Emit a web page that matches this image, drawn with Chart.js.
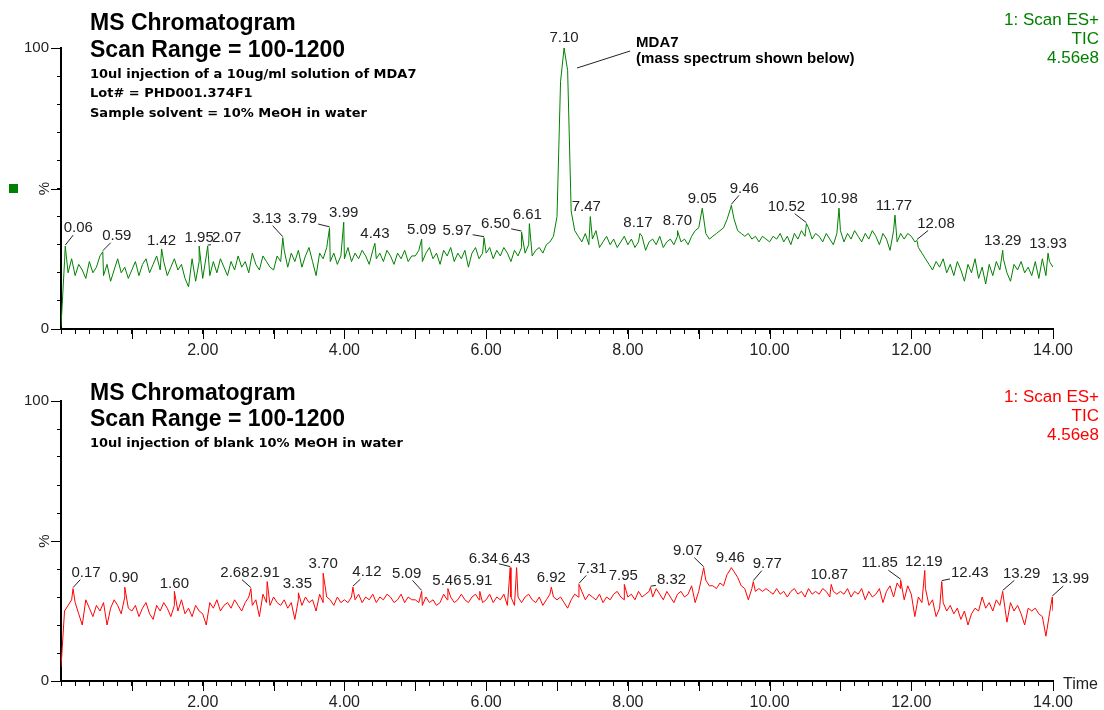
<!DOCTYPE html>
<html>
<head>
<meta charset="utf-8">
<script src="https://cdn.jsdelivr.net/npm/chart.js@4.4.0/dist/chart.umd.min.js"></script>
<style>
  html, body { margin: 0; padding: 0; background: #fff; }
  #wrap { position: relative; width: 1104px; height: 710px; }
  canvas { position: absolute; left: 0; }
  #topChart { top: 0; }
  #bottomChart { top: 360px; }
</style>
</head>
<body>
<div id="wrap">
  <canvas id="topChart" width="1104" height="360"></canvas>
  <canvas id="bottomChart" width="1104" height="350"></canvas>
</div>
<script>
// one reading every 0.05 min from 0.00 to 14.00
const STEP = 0.05;

// MDA7 injection, relative intensity (%), one row per minute
const mdaTrace = [
  1, 24, 20, 25, 19, 23, 21, 18, 24, 20, 22, 26, 19, 23, 17, 21, 25, 20, 22, 18,
  21, 24, 19, 23, 25, 20, 23, 26, 21, 24, 19, 22, 25, 21, 23, 18, 15, 25, 17, 24,
  18, 26, 19, 24, 20, 25, 22, 19, 24, 21, 26, 22, 24, 20, 27, 23, 21, 26, 24, 22,
  21, 26, 24, 28, 22, 27, 24, 28, 22, 26, 29, 24, 19, 27, 25, 29, 24, 27, 23, 26,
  25, 29, 24, 27, 25, 28, 26, 23, 28, 25, 27, 24, 28, 26, 23, 27, 25, 28, 24, 26,
  26, 28, 24, 27, 29, 25, 27, 23, 28, 26, 29, 24, 27, 25, 28, 22, 27, 29, 25, 27,
  27, 29, 25, 28, 26, 29, 27, 24, 28, 26, 29, 27, 30, 26, 28, 29, 27, 30, 31, 33,
  40, 88, 100, 92, 42, 35, 33, 31, 34, 30, 32, 35, 29, 31, 33, 30, 32, 29, 31, 33,
  30, 32, 29, 31, 33, 28, 31, 32, 30, 33, 29, 31, 32, 30, 33, 31, 32, 30, 33, 35,
  36, 43, 34, 32, 33, 34, 35, 36, 39, 43, 39, 35, 34, 33, 34, 32, 33, 31, 33, 32,
  31, 33, 32, 34, 31, 33, 30, 34, 32, 35, 33, 36, 32, 34, 33, 31, 34, 32, 30, 34,
  35, 31, 34, 32, 35, 33, 31, 34, 32, 35, 33, 30, 34, 32, 28, 35, 31, 34, 32, 34,
  33, 31, 29, 27, 25, 23, 21, 24, 22, 25, 20, 23, 19, 24, 21, 17, 23, 20, 25, 18,
  22, 16, 23, 19, 24, 21, 25, 20, 17, 23, 21, 24, 20, 22, 19, 24, 18, 25, 19, 24,
  22
];
const mdaPeakTimes = [0.06, 0.59, 1.42, 1.95, 2.07, 3.13, 3.79, 3.99, 4.43, 5.09, 5.97, 6.50, 6.61,
  7.10, 7.47, 8.17, 8.70, 9.05, 9.46, 10.52, 10.98, 11.77, 12.08, 13.29, 13.93];
const mdaPeakHeights = [29.5, 27.5, 28.5, 29.5, 29.5, 32.5, 36, 38, 30.5, 32, 32.5, 34.5, 37.5,
  100, 40, 34, 35, 43, 44, 37.5, 43, 40.5, 31.5, 28, 27];

// blank injection, relative intensity (%), one row per minute
const blankTrace = [
  5, 25, 27, 29, 28, 24, 20, 29, 26, 23, 27, 25, 28, 20, 26, 29, 27, 24, 30, 26,
  25, 27, 23, 26, 28, 24, 22, 27, 25, 28, 26, 23, 27, 25, 29, 24, 26, 23, 27, 25,
  24, 20, 28, 26, 29, 25, 27, 28, 26, 29, 27, 25, 28, 30, 27, 29, 23, 31, 28, 27,
  30, 28, 27, 29, 26, 28, 22, 29, 27, 30, 28, 29, 25, 31, 28, 30, 29, 27, 30, 28,
  29, 28, 30, 29, 31, 28, 30, 29, 31, 28, 30, 29, 31, 30, 28, 29, 31, 28, 30, 29,
  29, 28, 27, 30, 28, 29, 27, 28, 31, 29, 30, 28, 29, 31, 29, 28, 30, 31, 29, 28,
  29, 31, 28, 30, 29, 31, 27, 30, 27, 30, 28, 30, 31, 29, 28, 30, 27, 29, 31, 30,
  29, 30, 28, 26, 29, 31, 30, 32, 29, 31, 30, 29, 31, 28, 30, 29, 31, 32, 30, 29,
  30, 31, 29, 32, 30, 31, 32, 30, 33, 31, 29, 32, 30, 28, 31, 32, 30, 31, 34, 28,
  32, 38, 36, 34, 34, 33, 35, 34, 38, 40, 39, 37, 34, 33, 29, 33, 32, 33, 32, 33,
  32, 31, 33, 31, 32, 30, 32, 33, 31, 32, 30, 33, 31, 32, 31, 33, 32, 30, 32, 31,
  32, 31, 33, 30, 32, 31, 33, 29, 32, 30, 31, 33, 28, 32, 34, 30, 35, 33, 29, 34,
  31, 23, 30, 28, 33, 27, 29, 23, 26, 28, 25, 27, 24, 26, 22, 25, 20, 24, 26, 25,
  30, 26, 28, 25, 29, 27, 30, 21, 28, 25, 27, 24, 20, 26, 25, 26, 24, 23, 16, 24,
  25
];
const blankPeakTimes = [0.17, 0.90, 1.60, 2.68, 2.91, 3.35, 3.70, 4.12, 5.09, 5.46, 5.91, 6.34, 6.43,
  6.92, 7.31, 7.95, 8.32, 9.07, 9.46, 9.77, 10.87, 11.85, 12.19, 12.43, 13.29, 13.99];
const blankPeakHeights = [33, 33.5, 32, 33, 35.5, 31.5, 38.5, 33.5, 32, 33, 32, 40.5, 40.5,
  33.5, 34.5, 34.5, 33.5, 40.5, 40.5, 35.5, 34.5, 36, 39.5, 35.5, 32, 30];

// where each peak label sits relative to its peak (px), leader drawn when pushed sideways
const mdaLabelShift = [[13, -18], [14, -16], [0, -8], [0, -8], [19, -8], [-16, -19], [-27, -9], [0, -9],
  [0, -9], [0, -9], [-27, -7], [-26, -8], [-2, -9], [0, -10], [-4, -10], [-2, -11], [0, -10], [0, -9],
  [13, -17], [-20, -17], [0, -9], [-1, -9], [19, -17], [0, -9], [0, -9]];
const blankLabelShift = [[13, -16], [-1, -9], [0, -8], [-16, -16], [-2, -9], [-1, -9], [0, -9], [14, -15],
  [-15, -18], [-1, -8], [-2, -11], [-27, -9], [-1, -9], [0, -9], [13, -16], [-1, -9], [21, -7], [-16, -17],
  [-1, -10], [14, -18], [-2, -10], [-21, -17], [-1, -9], [28, -9], [19, -18], [18, -18]];

const FONT = '"Liberation Sans", Arial, sans-serif';
const NOTE_FONT = 'bold 13px "DejaVu Sans", sans-serif';
const GREEN = '#008000';
const RED = '#ff0000';

function toPoints(trace, peakTimes, peakHeights) {
  const pts = trace.map((v, i) => ({ x: +(i * STEP).toFixed(2), y: v }));
  peakTimes.forEach((t, i) => pts.push({ x: t, y: peakHeights[i] }));
  return pts.sort((a, b) => a.x - b.x);
}

function text(ctx, str, x, y, font, color, align) {
  ctx.font = font;
  ctx.fillStyle = color;
  ctx.textAlign = align || 'left';
  ctx.textBaseline = 'alphabetic';
  ctx.fillText(str, x, y);
}

function drawPeakLabels(chart, times, heights, shifts) {
  const ctx = chart.ctx, xs = chart.scales.x, ys = chart.scales.y;
  ctx.font = '15px ' + FONT;
  ctx.fillStyle = '#222';
  ctx.strokeStyle = '#222';
  ctx.lineWidth = 1;
  ctx.textAlign = 'center';
  ctx.textBaseline = 'middle';
  times.forEach((t, i) => {
    const px = xs.getPixelForValue(t), py = ys.getPixelForValue(heights[i]);
    const [dx, dy] = shifts[i];
    const label = t.toFixed(2);
    ctx.fillText(label, px + dx, py + dy);
    if (Math.abs(dx) > 5) {
      const hw = ctx.measureText(label).width / 2 + 1, hh = 7;
      const k = 1 - Math.min(hw / Math.abs(dx), hh / Math.abs(dy));
      if (k > 0) {
        ctx.beginPath();
        ctx.moveTo(px, py - 1);
        ctx.lineTo(px + dx * k, py + dy * k);
        ctx.stroke();
      }
    }
  });
}

function drawAxisExtras(chart) {
  const ctx = chart.ctx, xs = chart.scales.x, ys = chart.scales.y, a = chart.chartArea;
  ctx.strokeStyle = '#000';
  ctx.lineWidth = 1;
  ctx.beginPath();
  for (let m = 1; m <= 14; m++) {
    const px = Math.round(xs.getPixelForValue(m)) + 0.5;
    ctx.moveTo(px, a.bottom);
    ctx.lineTo(px, a.bottom + 10);
  }
  [0, 50, 100].forEach(v => {
    const py = Math.round(ys.getPixelForValue(v)) + 0.5;
    ctx.moveTo(a.left - 10, py);
    ctx.lineTo(a.left, py);
  });
  ctx.stroke();
  // rotated % label at the 50 tick
  ctx.save();
  ctx.translate(a.left - 16, ys.getPixelForValue(50));
  ctx.rotate(-Math.PI / 2);
  ctx.font = '15px ' + FONT;
  ctx.fillStyle = '#222';
  ctx.textAlign = 'center';
  ctx.textBaseline = 'middle';
  ctx.fillText('%', 0, 0);
  ctx.restore();
}

function drawScanInfo(ctx, color, y0) {
  const f = '17px ' + FONT;
  text(ctx, '1: Scan ES+', 1099, y0, f, color, 'right');
  text(ctx, 'TIC', 1099, y0 + 19, f, color, 'right');
  text(ctx, '4.56e8', 1099, y0 + 38, f, color, 'right');
}

const topDecor = {
  id: 'topDecor',
  afterDraw(chart) {
    const ctx = chart.ctx;
    ctx.save();
    drawAxisExtras(chart);
    const big = 'bold 23px ' + FONT;
    text(ctx, 'MS Chromatogram', 90, 30, big, '#000');
    text(ctx, 'Scan Range = 100-1200', 90, 57, big, '#000');
    text(ctx, '10ul injection of a 10ug/ml solution of MDA7', 90, 78, NOTE_FONT, '#000');
    text(ctx, 'Lot# = PHD001.374F1', 90, 97, NOTE_FONT, '#000');
    text(ctx, 'Sample solvent = 10% MeOH in water', 90, 117, NOTE_FONT, '#000');
    drawScanInfo(ctx, GREEN, 25);
    // green marker beside the % label
    ctx.fillStyle = GREEN;
    ctx.fillRect(9, Math.round(chart.scales.y.getPixelForValue(50)) - 5, 9, 9);
    drawPeakLabels(chart, mdaPeakTimes, mdaPeakHeights, mdaLabelShift);
    // MDA7 call-out next to the main peak
    const px = chart.scales.x.getPixelForValue(7.10), py = chart.scales.y.getPixelForValue(100);
    ctx.strokeStyle = '#222';
    ctx.beginPath();
    ctx.moveTo(px + 13, py + 20);
    ctx.lineTo(px + 66, py + 3);
    ctx.stroke();
    text(ctx, 'MDA7', px + 72, py - 1, 'bold 15px ' + FONT, '#000');
    text(ctx, '(mass spectrum shown below)', px + 72, py + 15, 'bold 15px ' + FONT, '#000');
    ctx.restore();
  }
};

const bottomDecor = {
  id: 'bottomDecor',
  afterDraw(chart) {
    const ctx = chart.ctx;
    ctx.save();
    drawAxisExtras(chart);
    const big = 'bold 23px ' + FONT;
    text(ctx, 'MS Chromatogram', 90, 40, big, '#000');
    text(ctx, 'Scan Range = 100-1200', 90, 66, big, '#000');
    text(ctx, '10ul injection of blank 10% MeOH in water', 90, 87, NOTE_FONT, '#000');
    drawScanInfo(ctx, RED, 42);
    const a = chart.chartArea;
    text(ctx, 'Time', a.right + 10, a.bottom + 8, '16px ' + FONT, '#222');
    drawPeakLabels(chart, blankPeakTimes, blankPeakHeights, blankLabelShift);
    ctx.restore();
  }
};

function makeChart(id, color, pts, padTop, axisHeight, decor) {
  return new Chart(document.getElementById(id), {
    type: 'line',
    data: {
      datasets: [{
        data: pts,
        borderColor: color,
        borderWidth: 1,
        pointRadius: 0,
        tension: 0,
        fill: false
      }]
    },
    options: {
      responsive: false,
      animation: false,
      devicePixelRatio: 1,
      layout: { padding: { top: padTop, right: 51, left: 0, bottom: 0 } },
      plugins: { legend: { display: false }, tooltip: { enabled: false } },
      scales: {
        x: {
          type: 'linear',
          min: 0,
          max: 14,
          afterFit: s => { s.height = axisHeight; },
          border: { display: true, color: '#000', width: 2 },
          grid: { drawOnChartArea: false, drawTicks: true, tickLength: 5, color: '#000' },
          ticks: {
            stepSize: 0.2,
            autoSkip: false,
            maxRotation: 0,
            padding: 7,
            color: '#222',
            font: { family: FONT, size: 16 },
            callback: v => (v > 0 && Math.round(v * 10) % 20 === 0) ? v.toFixed(2) : ''
          }
        },
        y: {
          min: 0,
          max: 100,
          afterFit: s => { s.width = 61; },
          border: { display: true, color: '#000', width: 2 },
          grid: { drawOnChartArea: false, drawTicks: true, tickLength: 4, color: '#000' },
          ticks: {
            stepSize: 10,
            padding: 8,
            color: '#222',
            font: { family: FONT, size: 15 },
            callback: v => (v === 0 || v === 100) ? String(v) : ''
          }
        }
      }
    },
    plugins: [decor]
  });
}

makeChart('topChart', GREEN, toPoints(mdaTrace, mdaPeakTimes, mdaPeakHeights), 48, 31, topDecor);
makeChart('bottomChart', RED, toPoints(blankTrace, blankPeakTimes, blankPeakHeights), 41, 29, bottomDecor);
</script>
</body>
</html>
